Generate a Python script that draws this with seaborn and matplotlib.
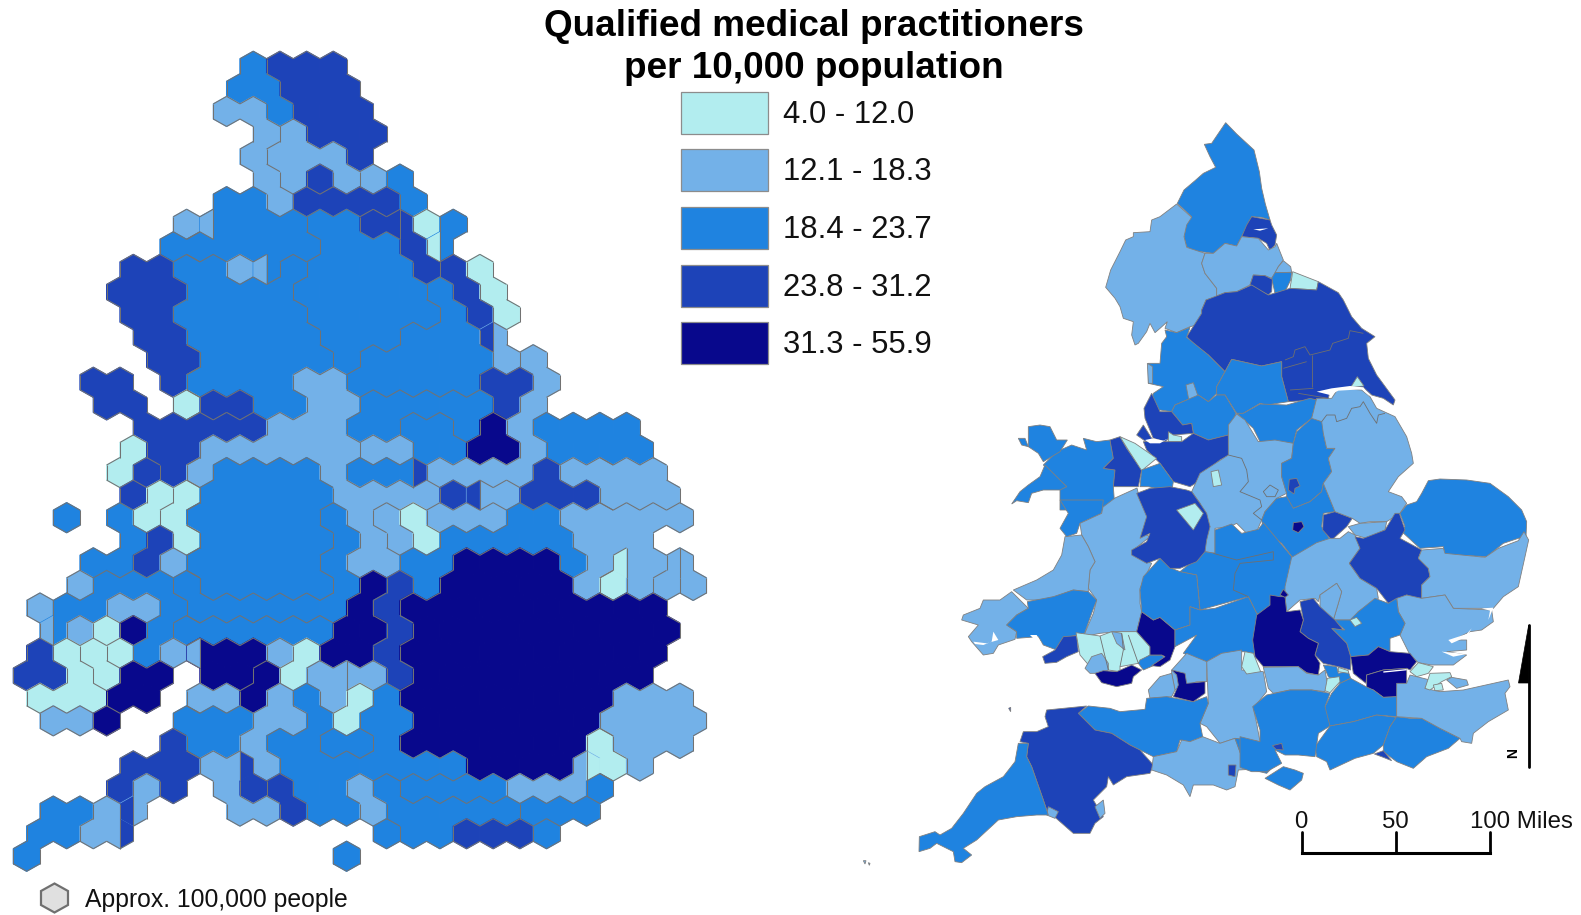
import matplotlib
matplotlib.use("Agg")
import matplotlib.pyplot as plt
import pandas as pd
import seaborn as sns
from matplotlib.collections import LineCollection
from matplotlib.patches import Polygon, Rectangle
from matplotlib.path import Path

# classes of the legend
CLASS_LABELS = ["4.0 - 12.0", "12.1 - 18.3", "18.4 - 23.7", "23.8 - 31.2", "31.3 - 55.9"]
CLASS_COLORS = ["#B2EDEF", "#73B1E8", "#1F83E0", "#1D43B8", "#08088C"]

# cartogram cells, one string per row. Letters are districts: same class, other district
DISTRICTS = {1: "1iI", 2: "2efswvzx", 3: "3abcdmnruytplqo", 4: "4gh", 5: "5k"}
HEX_ROWS = [
    ".........3444",
    ".........33444",
    "........223444",
    "..........2e444",
    ".........2eee4",
    "..........2egef3",
    "........33244443",
    ".......23333aah413",
    "......333333aaa43",
    ".....44bb23baaaa4h1",
    "....444bbbbaaaaach1",
    ".....44bbbbbaaaaach1",
    ".....44bbbbbaaaccce",
    "......44bbbbbacccccef",
    "...44.4bbbb22ccccc44f",
    "....44.1ggbb22ddddd4f",
    ".....44444222ddmmd5f3333",
    ".....144222222ffmm55f3333",
    "....1h42rrrr2nnnffff4wwww",
    ".....41irrrrr22224ss444www",
    "..3.31irrrrru2v1eee3322222",
    ".....34irrrrru2v133333222",
    "...3342rrrrru223355553222x",
    "...2yyyurrrrru54355555212zx",
    ".2yy22yuuuuuu545555555555",
    "..y215ytttttt5545555555555",
    ".41iIy2555215545555555555",
    ".441i55.55k12ss4555555555",
    ".11155.22k2a21a55555555222",
    "..22k..33322a1aa55555552222",
    "......4332aappa55555551222",
    ".....444222aaaaaaa5555212",
    "....424.24gaa2oqqqq2223",
    "..3322...22gaa2ooooolll",
    ".3322.........moo4443",
    ".3...........3",
]
# cells cut in two by a district border: row, column, side, district of that side
HEX_HALVES = [
    (7, 16, "L", "2"), (7, 30, "L", "h"), (8, 33, "L", "1"), (9, 20, "L", "2"),
    (12, 37, "L", "h"), (18, 31, "R", "4"), (19, 36, "L", "4"), (22, 47, "L", "1"),
    (22, 51, "L", "z"), (25, 4, "L", "2"), (26, 15, "L", "2"), (27, 26, "L", "2"),
    (31, 18, "R", "4"), (31, 44, "R", "1"), (33, 10, "L", "4"), (34, 9, "R", "4"),
]

MAP_NORTH_ORIGIN = (960, 110)
MAP_NORTH = [
    (3, [(797,38),(830,72),(855,95),(882,120),(898,185),(905,235),(916,282),(930,330),(905,322),(875,320),(865,345),(845,380),(830,408),(795,400),(760,430),(700,422),(680,410),(672,380),(680,340),(695,320),(652,280),(672,240),(705,212),(730,190),(767,172),(750,140),(733,103),(755,100)]),
    (4, [(875,320),(930,330),(935,345),(950,375),(945,405),(930,422),(920,400),(895,385),(845,380),(860,345)]),
    (2, [(650,282),(695,322),(680,345),(672,380),(680,412),(735,430),(725,460),(735,490),(770,535),(770,560),(738,570),(725,600),(735,640),(690,650),(650,668),(615,655),(622,635),(600,655),(585,668),(570,640),(560,665),(535,700),(525,705),(515,675),(520,635),(490,625),(480,590),(465,565),(437,532),(452,480),(480,425),(497,390),(520,380),(520,368),(570,365),(575,330),(600,320)]),
    (2, [(735,430),(760,430),(795,400),(830,408),(845,380),(895,385),(925,420),(945,410),(950,400),(970,450),(955,470),(945,490),(935,505),(915,497),(880,495),(870,525),(830,545),(795,548),(770,558),(770,535),(735,490),(725,460)]),
    (2, [(970,452),(992,470),(995,487),(945,488),(955,470)]),
    (3, [(945,488),(995,487),(992,510),(975,545),(945,550),(935,505)]),
    (4, [(880,495),(915,497),(937,508),(935,545),(925,555),(905,545),(870,525)]),
    (1, [(998,485),(1075,515),(1070,540),(990,535),(995,505)]),
    (4, [(1075,515),(1135,548),(1150,570),(1175,620),(1205,655),(1245,680),(1220,700),(1225,745),(1250,795),(1305,870),(1300,885),(1270,865),(1235,855),(1210,832),(1140,835),(1110,840),(1105,867),(985,875),(965,800),(965,755),(905,768),(815,748),(795,785),(745,735),(700,700),(680,680),(725,610),(725,600),(738,570),(795,548),(830,545),(875,525),(925,555),(990,535),(1070,540)]),
    (3, [(615,660),(650,668),(690,652),(680,682),(745,735),(795,785),(770,830),(770,850),(745,875),(715,855),(645,885),(635,905),(600,900),(565,905),(580,850),(610,830),(565,820),(565,760),(600,760),(605,700),(620,680)]),
    (2, [(678,825),(700,818),(718,870),(688,878)]),
    (2, [(562,760),(578,770),(578,820),(565,820)]),
    (3, [(795,785),(815,748),(905,768),(965,755),(965,800),(985,875),(920,885),(900,880),(850,910),(830,910),(795,855),(770,855),(770,830)]),
    (3, [(850,910),(900,882),(980,885),(1050,865),(1070,870),(1055,925),(1010,960),(1000,1000),(900,995),(880,955),(830,910)]),
    (3, [(645,885),(715,855),(745,875),(770,855),(795,855),(828,910),(805,975),(745,990),(700,970),(695,940),(668,945),(635,905)]),
    (4, [(575,850),(600,905),(635,905),(668,945),(695,940),(700,970),(640,975),(615,995),(580,985),(555,925),(552,895)]),
    (4, [(550,945),(575,985),(610,995),(565,1000),(530,975)]),
    (1, [(625,965),(640,975),(665,980),(665,995),(625,995)]),
    (4, [(550,995),(615,995),(665,995),(700,970),(745,990),(805,975),(808,1035),(780,1050),(750,1075),(715,1115),(690,1130),(640,1115),(600,1060),(590,1050),(560,1020)]),
    (3, [(370,985),(410,995),(450,990),(460,1045),(430,1075),(465,1080),(460,1130),(465,1200),(300,1200),(300,1135),(320,1130),(250,1065),(290,1025),(335,1005),(380,1020)]),
    (4, [(450,990),(480,980),(500,1015),(545,1080),(535,1130),(460,1130),(465,1080),(430,1075),(460,1045)]),
    (1, [(480,980),(525,1000),(590,1045),(545,1082),(505,1020)]),
    (3, [(205,950),(240,945),(270,950),(290,990),(322,990),(300,1025),(250,1055),(235,1030),(205,1010)]),
    (3, [(175,985),(195,985),(205,1010),(185,1005)]),
    (3, [(255,1065),(320,1130),(300,1140),(250,1140),(215,1150),(205,1178),(170,1172),(155,1182),(180,1145),(205,1125),(240,1100)]),
    (3, [(600,1060),(640,1115),(635,1145),(565,1130),(540,1130),(545,1080)]),
]

MAP_EAST_ORIGIN = (1150, 300)
MAP_EAST = [
    (1, [(602,262),(622,230),(642,258)]),
    (2, [(235,375),(260,342),(285,360),(325,425),(375,420),(430,430),(425,475),(395,490),(395,530),(410,580),(380,595),(345,635),(335,660),(322,690),(290,700),(260,670),(240,680),(195,685),(195,760),(165,755),(165,700),(180,680),(160,640),(150,610),(125,575),(150,520),(235,465)]),
    (1, [(183,515),(205,510),(215,555),(190,560)]),
    (3, [(520,360),(520,400),(530,445),(555,445),(535,475),(545,515),(520,550),(515,575),(480,605),(430,625),(410,612),(410,580),(395,530),(395,490),(425,475),(430,430),(440,395),(485,355)]),
    (4, [(418,538),(440,535),(450,558),(435,565),(432,582),(415,570)]),
    (3, [(410,590),(430,625),(480,605),(515,575),(520,550),(555,635),(520,640),(515,680),(540,718),(500,730),(430,775),(395,730),(340,690),(335,660),(345,635),(380,595)]),
    (5, [(430,668),(455,665),(462,680),(445,698),(428,690)]),
    (4, [(520,645),(555,635),(607,655),(590,680),(545,720),(518,690)]),
    (2, [(500,295),(545,295),(565,265),(635,270),(660,290),(680,325),(735,350),(770,410),(785,460),(790,490),(745,530),(715,575),(755,590),(770,610),(750,640),(710,665),(660,665),(630,670),(607,655),(555,635),(520,550),(545,515),(535,475),(555,445),(530,445),(520,400),(515,365),(485,355)]),
    (3, [(835,542),(870,537),(950,540),(1020,550),(1075,590),(1115,630),(1130,665),(1128,710),(1105,715),(1060,730),(1010,770),(920,765),(885,765),(880,740),(810,745),(750,690),(765,680),(750,640),(770,615),(800,605),(815,580)]),
    (2, [(595,680),(630,670),(710,665),(705,690),(650,715),(615,705)]),
]

MAP_SW_ORIGIN = (920, 500)
MAP_SW = [
    (3, [(420,0),(550,0),(545,40),(480,70),(470,100),(440,110),(420,85),(445,40)]),
    (2, [(549,21),(585,-6),(651,-36),(660,0),(690,30),(670,100),(690,110),(640,150),(670,180),(695,190),(660,265),(660,310),(665,335),(650,395),(590,395),(540,400),(490,410),(520,340),(530,300),(505,265),(510,210),(525,185),(505,140),(485,105),(480,70),(545,40)]),
    (2, [(435,110),(485,105),(505,140),(525,185),(510,210),(505,265),(505,275),(460,270),(405,290),(360,300),(320,300),(280,270),(350,240),(400,210),(425,165)]),
    (2, [(275,275),(325,325),(290,345),(260,375),(290,395),(285,418),(235,435),(220,460),(190,465),(155,425),(145,410),(175,375),(125,360),(130,345),(180,325),(190,300),(240,300)]),
    (3, [(322,305),(400,290),(460,270),(505,275),(530,300),(515,340),(490,410),(470,405),(430,415),(410,450),(370,435),(355,410),(290,415),(290,395),(260,375),(290,345),(325,325)]),
    (4, [(430,410),(470,407),(475,455),(440,470),(410,487),(375,490),(368,470),(405,450)]),
    (1, [(468,398),(540,408),(575,395),(650,395),(690,440),(690,465),(655,490),(600,500),(600,515),(565,510),(545,490),(510,500),(480,465)]),
    (2, [(575,395),(605,400),(615,450),(590,430)]),
    (2, [(515,470),(545,460),(565,490),(565,510),(540,520),(510,520),(495,505)]),
    (5, [(525,520),(550,512),(590,515),(635,495),(665,510),(640,530),(635,550),(590,560),(545,548)]),
    (3, [(660,480),(690,465),(725,465),(735,475),(700,497),(670,510),(655,490)]),
    (5, [(665,335),(700,360),(720,352),(765,390),(765,440),(750,480),(720,500),(695,497),(735,470),(725,465),(690,465),(690,440),(650,395)]),
    (3, [(885,90),(935,72),(965,100),(1015,88),(1030,68),(1115,170),(1125,215),(1100,300),(1100,335),(1050,350),(1010,340),(985,290),(840,330),(830,225),(780,215),(855,155),(885,160)]),
    (3, [(720,175),(755,205),(780,215),(830,225),(840,330),(810,320),(810,375),(765,390),(720,352),(700,360),(665,335),(660,270),(670,230)]),
    (3, [(810,320),(840,330),(885,325),(985,290),(1010,340),(1040,345),(1040,440),(1000,460),(970,455),(905,460),(860,485),(790,460),(830,405),(765,440),(765,390),(810,375)]),
    (4, [(650,-20),(690,-35),(750,-40),(800,-30),(815,-25),(840,10),(860,40),(870,80),(860,120),(855,155),(830,185),(780,205),(750,205),(720,175),(680,190),(635,165),(635,150),(680,125),(690,100),(660,115),(680,50)]),
    (1, [(770,30),(825,10),(850,40),(820,90)]),
    (2, [(860,485),(905,460),(965,450),(965,510),(1030,515),(1040,575),(1000,625),(1010,670),(1020,725),(945,715),(900,730),(860,680),(840,670),(865,610)]),
    (1, [(975,455),(1000,460),(1022,515),(980,522),(965,500)]),
    (2, [(800,460),(860,485),(860,545),(830,545),(765,570),(755,520),(755,510)]),
    (2, [(720,530),(755,520),(765,570),(755,590),(690,595),(685,570)]),
    (3, [(475,640),(505,618),(570,625),(600,635),(675,628),(680,595),(740,590),(820,605),(860,590),(865,610),(840,670),(848,710),(810,725),(780,720),(770,755),(700,770),(660,750),(630,735),(575,700),(525,690)]),
    (5, [(755,510),(795,520),(800,550),(855,545),(855,580),(820,605),(760,590),(775,555),(770,525)]),
    (4, [(380,630),(500,618),(475,640),(525,690),(575,700),(630,735),(660,750),(700,795),(690,820),(620,830),(580,855),(565,830),(560,860),(520,900),(550,950),(525,970),(510,1000),(460,1000),(420,965),(380,930),(370,900),(335,800),(320,770),(325,730),(300,725),(310,695),(350,695),(385,680),(375,650)]),
    (2, [(525,920),(550,900),(555,940),(540,955)]),
    (2, [(385,920),(415,935),(405,955),(380,945)]),
    (3, [(295,730),(325,730),(320,770),(335,800),(370,900),(385,945),(350,945),(290,950),(235,960),(170,1020),(130,1045),(155,1065),(125,1088),(105,1085),(100,1055),(50,1030),(30,1045),(-3,1055),(-2,1010),(45,995),(60,1005),(95,985),(130,940),(170,880),(195,860),(250,830),(285,785)]),
    (2, [(700,770),(770,755),(785,720),(810,725),(848,710),(900,730),(945,715),(965,770),(990,808),(955,810),(945,860),(920,870),(880,855),(820,855),(810,890),(790,855),(740,825),(695,810)]),
    (4, [(925,795),(948,795),(945,830),(925,825)]),
    (3, [(945,715),(1020,725),(1060,760),(1060,800),(1040,820),(990,808),(965,770)]),
    (4, [(266,625),(272,622),(272,635)]),
    (2, [(-170,1082),(-162,1082),(-165,1092)]),
    (2, [(-155,1088),(-150,1090),(-152,1096)]),
]

MAP_SE_ORIGIN = (1240, 480)
MAP_SE = [
    (2, [(135,320),(155,232),(230,188),(270,175),(300,175),(325,155),(345,165),(360,205),(328,250),(360,295),(410,325),(415,355),(355,395),(335,420),(280,420),(295,370),(305,335),(290,310),(240,345),(235,365),(225,355),(180,360),(140,395),(135,350)]),
    (2, [(240,345),(290,310),(305,335),(295,370),(280,420),(240,385)]),
    (4, [(465,100),(478,100),(495,150),(480,175),(545,210),(535,235),(565,265),(570,290),(545,315),(545,360),(500,345),(445,370),(410,325),(360,295),(328,250),(360,205),(345,170),(370,175),(435,150)]),
    (2, [(545,210),(610,205),(615,220),(735,232),(775,205),(835,182),(852,155),(866,180),(855,230),(835,320),(790,350),(760,385),(725,385),(640,385),(615,345),(545,355),(545,315),(570,290),(565,265),(535,235)]),
    (2, [(470,355),(500,345),(545,355),(615,345),(640,385),(755,390),(760,425),(725,450),(690,455),(640,480),(680,480),(680,510),(620,515),(650,520),(680,525),(640,555),(600,555),(575,555),(535,548),(510,525),(480,465),(495,430),(475,395)]),
    (3, [(355,395),(405,355),(445,370),(470,355),(475,395),(495,430),(480,465),(450,475),(450,515),(415,500),(385,525),(332,530),(320,490),(275,445),(315,450),(280,420),(330,420)]),
    (1, [(330,420),(350,412),(365,430),(345,440)]),
    (4, [(180,365),(220,355),(240,380),(285,420),(310,450),(275,445),(320,490),(332,530),(332,570),(295,560),(250,550),(225,525),(235,490),(205,475),(180,455),(190,420)]),
    (5, [(90,345),(120,350),(135,350),(140,395),(180,390),(190,420),(180,455),(205,475),(235,490),(225,525),(240,550),(235,585),(200,578),(175,560),(70,560),(45,530),(38,480),(50,405),(90,375)]),
    (5, [(120,345),(130,328),(145,345),(135,352)]),
    (5, [(332,530),(385,525),(415,500),(450,515),(510,520),(530,545),(510,570),(500,565),(430,570),(380,585),(378,610),(340,580)]),
    (5, [(380,585),(430,570),(500,565),(500,610),(480,650),(430,652),(400,630),(380,625)]),
    (2, [(70,562),(175,560),(200,580),(235,585),(255,570),(262,610),(255,635),(215,630),(150,630),(100,640),(85,625)]),
    (3, [(250,555),(290,560),(295,580),(325,575),(332,595),(300,610),(265,590)]),
    (1, [(262,595),(298,590),(300,605),(270,638),(255,632)]),
    (1, [(295,562),(325,572),(325,580),(295,575)]),
    (3, [(275,640),(300,610),(332,595),(378,620),(400,630),(430,652),(470,650),(470,710),(410,705),(340,725),(270,738),(250,700),(255,680)]),
    (3, [(270,738),(340,725),(410,705),(470,712),(450,740),(430,795),(400,820),(345,835),(270,870),(260,845),(230,830),(225,800)]),
    (3, [(470,710),(510,715),(545,715),(600,745),(660,775),(625,805),(560,830),(520,865),(470,845),(430,815),(430,795),(450,740)]),
    (4, [(403,822),(430,812),(455,842),(430,832)]),
    (2, [(470,610),(500,610),(510,585),(570,600),(555,625),(600,635),(670,630),(805,600),(810,620),(795,640),(805,690),(745,725),(700,760),(695,790),(665,785),(660,775),(600,745),(545,715),(470,710)]),
    (1, [(510,575),(535,548),(580,560),(565,580),(530,590)]),
    (1, [(570,580),(630,578),(635,590),(605,605),(570,630),(555,625)]),
    (1, [(580,615),(605,610),(610,630),(585,632)]),
    (2, [(635,592),(680,600),(685,615),(650,625),(620,600)]),
    (3, [(38,680),(80,645),(150,630),(215,630),(270,640),(255,680),(270,738),(235,760),(225,830),(175,825),(135,825),(105,810),(125,850),(80,875),(35,875),(0,862),(0,770),(60,785),(60,750)]),
    (3, [(75,895),(130,860),(165,870),(190,880),(185,900),(150,930),(115,915)]),
    (4, [(97,797),(125,790),(130,810),(108,808)]),
]

# borders inside one class, same crop coordinates as MAP_EAST and MAP_SW
MAP_EAST_BORDERS = [
    [(405,180),(430,170),(435,150),(465,140),(480,165),(540,150),(548,130),(595,115),(600,92),(640,100)],
    [(485,165),(485,262)], [(400,205),(470,185)], [(420,270),(490,265)], [(445,280),(535,295)],
    [(515,365),(530,345),(555,345),(560,365),(590,355),(605,325),(630,320),(640,305),(660,340),(680,370),(685,345),(705,340)],
    [(235,465),(275,475),(290,510),(295,545),(270,575),(330,600),(335,620),(310,640),(335,660)],
    [(340,575),(360,555),(385,570),(375,590),(350,590),(340,575)],
]
MAP_SW_BORDERS = [
    [(880,160),(950,180),(1060,155),(1060,180),(960,190),(945,220),(940,270),(985,290)],
    [(540,408),(565,510)], [(605,400),(610,450),(600,500)], [(625,405),(655,490)],
]

# estuaries cut out of the land
WATER_NORTH = [
    [(555,990),(580,985),(610,992),(625,985),(600,1000),(570,1000)],
    [(880,358),(925,355),(900,362)],
]
WATER_EAST = [[(500,275),(545,265),(600,258),(640,262),(660,290),(635,268),(565,272),(540,285)]]
WATER_SW = [
    [(160,425),(200,430),(235,420),(220,395),(215,425),(190,435),(165,432)],
    [(330,405),(350,405),(365,430),(345,420)],
]
WATER_SE = [
    [(625,480),(680,462),(695,445),(680,470),(635,490)],
    [(605,515),(680,522),(640,530)],
    [(725,385),(760,383),(745,420),(750,392)],
    [(430,574),(500,567),(500,571),(430,578)],
]

SCALE_TICKS = [0, 50, 100]

W, H = 1581, 915
HEX_STEP = 13.33
ROW_STEP = 22.57
FIRST_ROW_Y = 66.3
HEX_HALF_H = ROW_STEP * 2 / 3

sns.set_theme(style="white")
plt.rcParams["font.family"] = ["Liberation Sans", "DejaVu Sans"]

class_of = {c: cls for cls, chars in DISTRICTS.items() for c in chars}
palette = dict(zip(range(1, 6), CLASS_COLORS))


def cell_col(row, i):
    return 2 * i + (1 if row % 2 == 0 else 0)


def cell_xy(row, col):
    return col * HEX_STEP, FIRST_ROW_Y + row * ROW_STEP


cells = {}
for row, text in enumerate(HEX_ROWS):
    for i, c in enumerate(text):
        if c != ".":
            cells[(row, cell_col(row, i))] = c
halves = {(r, k, side): c for r, k, side, c in HEX_HALVES}


def side_label(r, k, side):
    if (r, k) not in cells:
        return None
    return halves.get((r, k, side), cells[(r, k)])


def to_full(origin, outline):
    return [(origin[0] + x / 3, origin[1] + y / 3) for x, y in outline]


df = pd.DataFrame(
    [(*cell_xy(r, k), class_of[c]) for (r, k), c in cells.items()],
    columns=["x", "y", "cls"],
)
half_df = pd.DataFrame(
    [(*cell_xy(r, k), side, class_of[c]) for r, k, side, c in HEX_HALVES],
    columns=["x", "y", "side", "cls"],
)

# marker shapes keep the squeezed rows of the cartogram
rx, ry = 0.5, 0.5 * 2 * HEX_HALF_H / (2 * HEX_STEP)
hex_marker = Path([(0, -ry), (rx, -ry / 2), (rx, ry / 2), (0, ry), (-rx, ry / 2), (-rx, -ry / 2), (0, -ry)], closed=True)
left_marker = Path([(0, -ry), (0, ry), (-rx, ry / 2), (-rx, -ry / 2), (0, -ry)], closed=True)
right_marker = Path([(0, -ry), (rx, -ry / 2), (rx, ry / 2), (0, ry), (0, -ry)], closed=True)
# a custom marker is scaled so that its tallest point gives sqrt(s) points
marker_s = (2 * HEX_HALF_H * 72 / 100) ** 2

fig = plt.figure(figsize=(W / 100, H / 100), dpi=100)
ax = fig.add_axes([0, 0, 1, 1])

# map on the right
groups = [
    (MAP_NORTH_ORIGIN, MAP_NORTH),
    (MAP_EAST_ORIGIN, MAP_EAST),
    (MAP_SW_ORIGIN, MAP_SW),
    (MAP_SE_ORIGIN, MAP_SE),
]
for origin, areas in groups:
    for cls, outline in areas:
        ax.add_patch(Polygon(to_full(origin, outline), closed=True, facecolor=palette[cls],
                             edgecolor="#808080", linewidth=0.6))
for origin, borders in [(MAP_EAST_ORIGIN, MAP_EAST_BORDERS), (MAP_SW_ORIGIN, MAP_SW_BORDERS)]:
    segs = [to_full(origin, b) for b in borders]
    ax.add_collection(LineCollection(segs, colors="#6f6f6f", linewidths=0.6))
water = [(MAP_NORTH_ORIGIN, WATER_NORTH), (MAP_EAST_ORIGIN, WATER_EAST), (MAP_SW_ORIGIN, WATER_SW), (MAP_SE_ORIGIN, WATER_SE)]
for origin, shapes in water:
    for outline in shapes:
        ax.add_patch(Polygon(to_full(origin, outline), closed=True, facecolor="white", edgecolor="none"))

# cartogram on the left
sns.scatterplot(data=df, x="x", y="y", hue="cls", palette=palette, marker=hex_marker, s=marker_s,
                linewidth=0.9, edgecolor="face", legend=False, ax=ax)
for side, marker in [("L", left_marker), ("R", right_marker)]:
    part = half_df[half_df["side"] == side]
    sns.scatterplot(data=part, x="x", y="y", hue="cls", palette=palette, marker=marker, s=marker_s,
                    linewidth=0, legend=False, ax=ax)

# grey lines wherever two neighbouring cells are not in the same district
edge_segs = {}
for (r, k) in cells:
    x, y = cell_xy(r, k)
    w, h = HEX_STEP, HEX_HALF_H
    top, bottom = (x, y - h), (x, y + h)
    ne, se = (x + w, y - h / 2), (x + w, y + h / 2)
    nw, sw = (x - w, y - h / 2), (x - w, y + h / 2)
    left = side_label(r, k, "L")
    right = side_label(r, k, "R")
    sides = [
        (left, side_label(r - 1, k - 1, "R"), top, nw),
        (right, side_label(r - 1, k + 1, "L"), top, ne),
        (right, side_label(r, k + 2, "L"), ne, se),
        (right, side_label(r + 1, k + 1, "L"), se, bottom),
        (left, side_label(r + 1, k - 1, "R"), bottom, sw),
        (left, side_label(r, k - 2, "R"), sw, nw),
    ]
    for mine, other, a, b in sides:
        if mine != other:
            key = tuple(sorted((tuple(round(v, 1) for v in a), tuple(round(v, 1) for v in b))))
            edge_segs[key] = (a, b)
    if left != right:
        edge_segs[(top, bottom)] = (top, bottom)
ax.add_collection(LineCollection(list(edge_segs.values()), colors="#727272", linewidths=0.75))

# title
ax.text(814, 26.5, "Qualified medical practitioners", fontsize=26.6, fontweight="bold", ha="center", va="center", color="black")
ax.text(814, 69, "per 10,000 population", fontsize=26.6, fontweight="bold", ha="center", va="center", color="black")

# legend
legend_tops = [92, 149, 207, 265, 322]
for top, color, label in zip(legend_tops, CLASS_COLORS, CLASS_LABELS):
    ax.add_patch(Rectangle((681, top), 87, 42, facecolor=color, edgecolor="#8c8c8c", linewidth=0.9))
    ax.text(783, top + 23, label, fontsize=22.3, ha="left", va="center", color="#111111")

# key for one cell
kx, ky = 54.5, 898
ax.add_patch(Polygon([(kx, ky - 14.5), (kx + 13.5, ky - 7), (kx + 13.5, ky + 7), (kx, ky + 14.5), (kx - 13.5, ky + 7), (kx - 13.5, ky - 7)],
                     closed=True, facecolor="#E0E0E0", edgecolor="#707070", linewidth=1.6))
ax.text(85, 899.5, "Approx. 100,000 people", fontsize=17.8, ha="left", va="center", color="#111111")

# scale bar
bar_xs = [1302, 1396, 1490]
ax.plot([bar_xs[0], bar_xs[-1]], [853, 853], color="black", lw=2.2, solid_capstyle="projecting")
for bx, tick in zip(bar_xs, SCALE_TICKS):
    ax.plot([bx, bx], [832, 853], color="black", lw=2.0)
    if tick < 100:
        ax.text(bx - 1, 822, str(tick), fontsize=17.3, ha="center", va="center", color="#111111")
ax.text(1470, 822, "100 Miles", fontsize=17.3, ha="left", va="center", color="#111111")

# north arrow
ax.plot([1528.7, 1528.7], [625, 767], color="black", lw=2.0)
ax.add_patch(Polygon([(1528.7, 625), (1518.5, 683), (1528.7, 683)], closed=True, facecolor="black", edgecolor="black", linewidth=0.5))
ax.text(1513, 753, "N", fontsize=10, fontweight="bold", rotation=90, ha="center", va="center", color="black")

ax.set_xlim(0, W)
ax.set_ylim(H, 0)
ax.set_xlabel("")
ax.set_ylabel("")
ax.axis("off")
fig.savefig("out.png", dpi=100)
